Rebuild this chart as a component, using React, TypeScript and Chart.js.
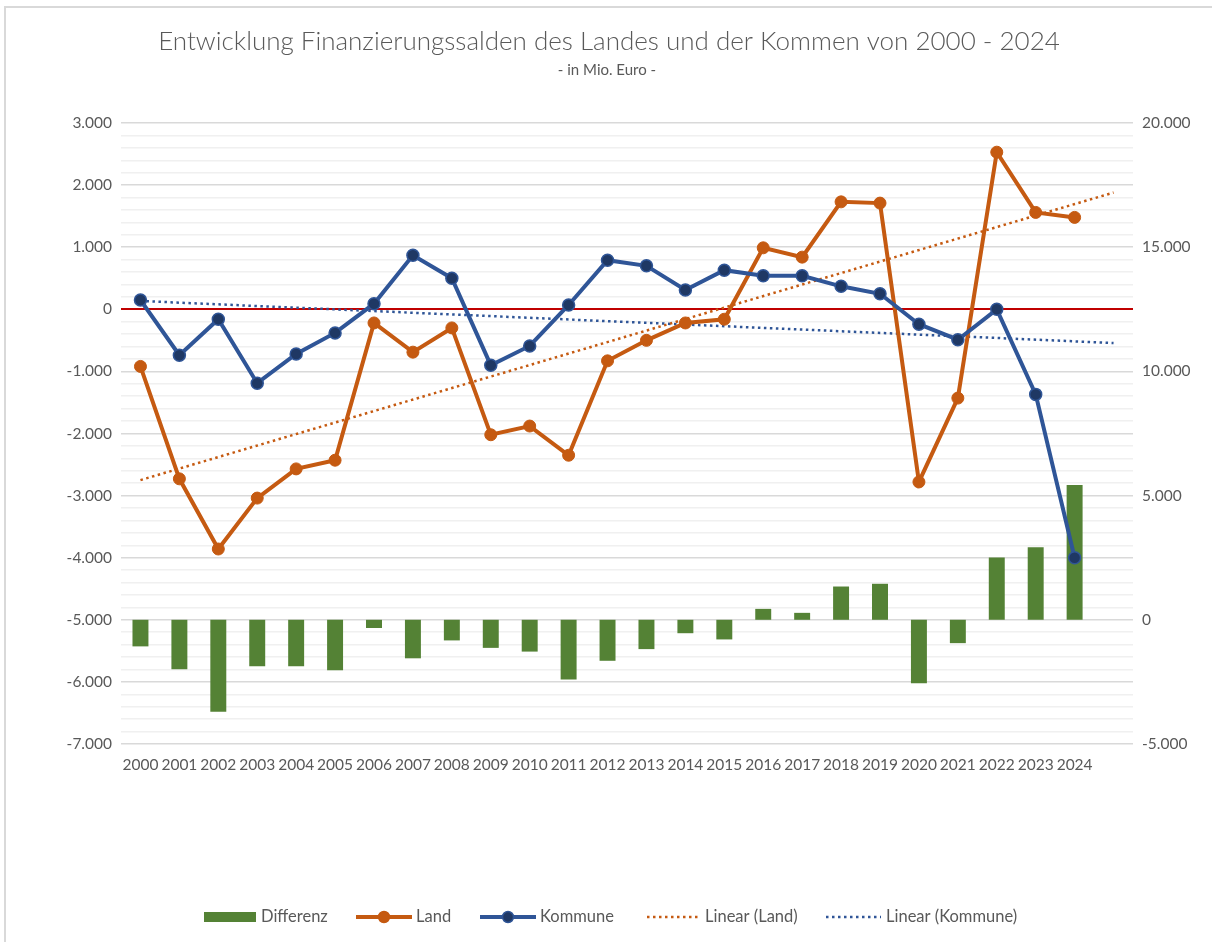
import React, { useEffect, useRef } from 'react';
import { Chart, registerables } from 'chart.js';

Chart.register(...registerables);

const years = ['2000', '2001', '2002', '2003', '2004', '2005', '2006', '2007', '2008', '2009', '2010', '2011', '2012', '2013', '2014', '2015', '2016', '2017', '2018', '2019', '2020', '2021', '2022', '2023', '2024', ''];

const land = [-920, -2730, -3860, -3040, -2570, -2430, -220, -690, -300, -2020, -1880, -2350, -830, -500, -220, -160, 990, 840, 1730, 1710, -2780, -1430, 2530, 1560, 1480, null];

const kommune = [150, -740, -160, -1190, -720, -380, 90, 870, 500, -900, -590, 70, 790, 700, 310, 630, 540, 540, 370, 250, -240, -490, 0, -1370, -4000, null];

const differenz = [-1070, -1990, -3700, -1870, -1870, -2030, -330, -1550, -830, -1130, -1280, -2400, -1650, -1180, -540, -790, 440, 280, 1340, 1450, -2550, -940, 2510, 2920, 5430, null];

// Trendline end values (start at 2000, end one period after 2024)
const trendLandEnds = [-2750, 1880];
const trendKommuneEnds = [134, -543];

const leftTicks = { min: -7000, max: 3000, major: 1000, minor: 200 };
const rightTicks = { min: -5000, max: 20000, step: 5000 };

const TITLE = 'Entwicklung Finanzierungssalden des Landes und der Kommen von 2000 - 2024';
const SUBTITLE = '- in Mio. Euro -';

const FONT = 'Lato, "Open Sans", "Noto Sans", sans-serif';
const TEXT = '#595959';
const ORANGE = '#C55A11';
const BLUE = '#2F5597';
const NAVY = '#1F3864';
const GREEN = '#548235';

const fmt = (v: number) => {
  const r = Math.round(v);
  const s = Math.abs(r).toString().replace(/\B(?=(\d{3})+(?!\d))/g, '.');
  return (r < 0 ? '-' : '') + s;
};

const trendSeries = (ends: number[]) =>
  years.map((_, i) => (i === 0 ? ends[0] : i === years.length - 1 ? ends[1] : null));

const decorPlugin = {
  id: 'decor',
  afterDraw(chart: any) {
    const ctx = chart.ctx as CanvasRenderingContext2D;
    ctx.save();
    // frame
    ctx.strokeStyle = '#D9D9D9';
    ctx.lineWidth = 2;
    ctx.beginPath();
    ctx.moveTo(5, 1000);
    ctx.lineTo(5, 7);
    ctx.lineTo(1300, 7);
    ctx.stroke();

    // title
    ctx.fillStyle = TEXT;
    ctx.textAlign = 'center';
    ctx.textBaseline = 'middle';
    ctx.font = `300 26px ${FONT}`;
    ctx.fillText(TITLE, 609, 42);
    ctx.font = `15px ${FONT}`;
    ctx.fillText(SUBTITLE, 607, 70);

    // legend
    const ly = 917;
    ctx.textAlign = 'left';
    ctx.font = `16.5px ${FONT}`;
    ctx.fillStyle = GREEN;
    ctx.fillRect(204, 912, 52, 10);
    ctx.fillStyle = TEXT;
    ctx.fillText('Differenz', 261, ly);

    const lineItem = (x0: number, x1: number, color: string, fill: string, label: string, tx: number) => {
      ctx.strokeStyle = color;
      ctx.lineWidth = 4;
      ctx.beginPath();
      ctx.moveTo(x0, ly);
      ctx.lineTo(x1, ly);
      ctx.stroke();
      ctx.beginPath();
      ctx.arc((x0 + x1) / 2, ly, 5.5, 0, Math.PI * 2);
      ctx.fillStyle = fill;
      ctx.fill();
      ctx.lineWidth = 1.5;
      ctx.stroke();
      ctx.fillStyle = TEXT;
      ctx.fillText(label, tx, ly);
    };
    lineItem(356, 412, ORANGE, ORANGE, 'Land', 416);
    lineItem(480, 536, BLUE, NAVY, 'Kommune', 540);

    const dotItem = (x0: number, x1: number, color: string, label: string, tx: number) => {
      ctx.strokeStyle = color;
      ctx.lineWidth = 2.5;
      ctx.setLineDash([2.5, 3.5]);
      ctx.beginPath();
      ctx.moveTo(x0, ly);
      ctx.lineTo(x1, ly);
      ctx.stroke();
      ctx.setLineDash([]);
      ctx.fillStyle = TEXT;
      ctx.fillText(label, tx, ly);
    };
    dotItem(647, 701, ORANGE, 'Linear (Land)', 705);
    dotItem(826, 881, BLUE, 'Linear (Kommune)', 886);
    ctx.restore();
  },
};

export default function App() {
  const ref = useRef<HTMLCanvasElement | null>(null);

  useEffect(() => {
    if (!ref.current) return;
    const chart = new Chart(ref.current, {
      type: 'bar',
      data: {
        labels: years,
        datasets: [
          {
            type: 'bar',
            label: 'Differenz',
            data: differenz,
            yAxisID: 'y1',
            backgroundColor: GREEN,
            barPercentage: 0.41,
            categoryPercentage: 1,
            order: 5,
          } as any,
          {
            type: 'line',
            label: 'Land',
            data: land,
            yAxisID: 'y',
            borderColor: ORANGE,
            backgroundColor: ORANGE,
            borderWidth: 4,
            pointRadius: 6,
            pointBackgroundColor: ORANGE,
            pointBorderColor: ORANGE,
            pointBorderWidth: 1,
            tension: 0,
            order: 2,
          },
          {
            type: 'line',
            label: 'Kommune',
            data: kommune,
            yAxisID: 'y',
            borderColor: BLUE,
            backgroundColor: BLUE,
            borderWidth: 4,
            pointRadius: 6,
            pointBackgroundColor: NAVY,
            pointBorderColor: BLUE,
            pointBorderWidth: 1.5,
            tension: 0,
            order: 1,
          },
          {
            type: 'line',
            label: 'Linear (Land)',
            data: trendSeries(trendLandEnds),
            yAxisID: 'y',
            borderColor: ORANGE,
            borderWidth: 2.5,
            borderDash: [2.5, 3.5],
            pointRadius: 0,
            spanGaps: true,
            order: 3,
          },
          {
            type: 'line',
            label: 'Linear (Kommune)',
            data: trendSeries(trendKommuneEnds),
            yAxisID: 'y',
            borderColor: BLUE,
            borderWidth: 2.5,
            borderDash: [2.5, 3.5],
            pointRadius: 0,
            spanGaps: true,
            order: 3,
          },
        ],
      },
      options: {
        animation: false,
        responsive: false,
        maintainAspectRatio: false,
        layout: { padding: { top: 123, bottom: 158, left: 0, right: 0 } },
        plugins: {
          legend: { display: false },
          title: { display: false },
          tooltip: { enabled: false },
        },
        scales: {
          x: {
            offset: true,
            grid: { display: false, drawTicks: false },
            border: { display: false },
            ticks: {
              color: TEXT,
              font: { family: FONT, size: 15.5 },
              maxRotation: 0,
              autoSkip: false,
              padding: 12,
            },
            afterFit: (s: any) => {
              s.height = 40;
            },
          },
          y: {
            position: 'left',
            min: leftTicks.min,
            max: leftTicks.max,
            border: { display: false },
            grid: {
              drawTicks: false,
              color: (c: any) => {
                const v = Math.round(c.tick.value);
                if (v === 0) return '#C00000';
                return v % leftTicks.major === 0 ? '#D9D9D9' : '#F0F0F0';
              },
              lineWidth: (c: any) => {
                const v = Math.round(c.tick.value);
                return v === 0 ? 2 : 1.5;
              },
            },
            ticks: {
              stepSize: leftTicks.minor,
              maxTicksLimit: 200,
              autoSkip: false,
              color: TEXT,
              font: { family: FONT, size: 15.5 },
              padding: 9,
              callback: (v: any) => (Math.round(Number(v)) % leftTicks.major === 0 ? fmt(Number(v)) : ''),
            },
            afterFit: (s: any) => {
              s.width = 121;
            },
          },
          y1: {
            position: 'right',
            min: rightTicks.min,
            max: rightTicks.max,
            border: { display: false },
            grid: { display: false, drawTicks: false },
            ticks: {
              stepSize: rightTicks.step,
              color: TEXT,
              font: { family: FONT, size: 15.5 },
              padding: 9,
              callback: (v: any) => fmt(Number(v)),
            },
            afterFit: (s: any) => {
              s.width = 79;
            },
          },
        },
      } as any,
      plugins: [decorPlugin],
    });
    return () => chart.destroy();
  }, []);

  return (
    <div style={{ position: 'fixed', left: 0, top: 0, width: 1212, height: 942, background: '#fff' }}>
      <canvas ref={ref} width={1212} height={942} style={{ width: 1212, height: 942, display: 'block' }} />
    </div>
  );
}
